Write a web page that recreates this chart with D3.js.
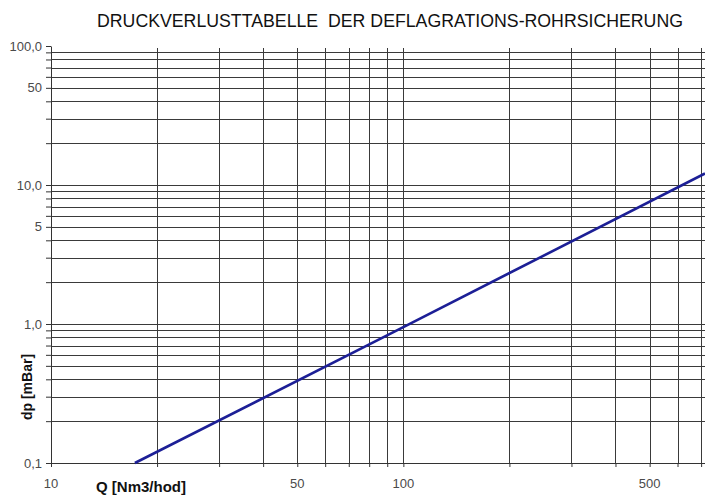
<!DOCTYPE html>
<html>
<head>
<meta charset="utf-8">
<script src="https://cdnjs.cloudflare.com/ajax/libs/d3/7.8.5/d3.min.js"></script>
<style>
  body { margin: 0; background: #fff; }
  svg { display: block; }
</style>
</head>
<body>
<div id="chart"></div>
<script>
// data
var flowQ = [17.3, 100, 718];          // Q [Nm3/hod]
var pressureDrop = [0.1, 0.95, 12.1];  // dp [mBar]

var xGrid = [20, 30, 40, 50, 60, 70, 80, 90, 100, 200, 300, 400, 500, 600, 700];
var yGrid = [0.2, 0.3, 0.4, 0.5, 0.6, 0.7, 0.8, 0.9, 1, 2, 3, 4, 5, 6, 7, 8, 9, 10, 20, 30, 40, 50, 60, 70, 80, 90];
var yTicks = [0.1, 0.2, 0.3, 0.4, 0.5, 0.6, 0.7, 0.8, 0.9, 1, 2, 3, 4, 5, 6, 7, 8, 9, 10, 20, 30, 40, 50, 60, 70, 80, 90, 100];
var xLabelValues = [10, 50, 100, 500];
var xLabelText = ["10", "50", "100", "500"];
var yLabelValues = [0.1, 1, 5, 10, 50, 100];
var yLabelText = ["0,1", "1,0", "5", "10,0", "50", "100,0"];

(function() {
    var W = 705, H = 495;
    var plot = {left: 51, right: 705, top: 46, bottom: 463};

    var svg = d3.select("#chart").append("svg")
        .attr("width", W)
        .attr("height", H);

    var x = d3.scaleLog().domain([10, 718]).range([plot.left, plot.right]);
    var y = d3.scaleLog().domain([0.1, 100]).range([plot.bottom, plot.top]);

    // title (double space kept)
    svg.append("text")
        .attr("x", 390).attr("y", 27)
        .attr("text-anchor", "middle")
        .attr("textLength", 586)
        .attr("lengthAdjust", "spacingAndGlyphs")
        .style("white-space", "pre")
        .style("font-family", "'Liberation Sans', Arial, sans-serif")
        .style("font-size", "18px")
        .style("fill", "#111")
        .text("DRUCKVERLUSTTABELLE  DER DEFLAGRATIONS-ROHRSICHERUNG");

    // grid lines
    svg.selectAll(".hgrid").data(yGrid).enter().append("line")
        .attr("class", "hgrid")
        .attr("x1", plot.left).attr("x2", plot.right)
        .attr("y1", d => Math.round(y(d)) + 0.5)
        .attr("y2", d => Math.round(y(d)) + 0.5)
        .attr("stroke", "#3a3a3a").attr("stroke-width", 1);

    svg.selectAll(".vgrid").data(xGrid).enter().append("line")
        .attr("class", "vgrid")
        .attr("x1", d => Math.round(x(d)) + 0.5)
        .attr("x2", d => Math.round(x(d)) + 0.5)
        .attr("y1", 48).attr("y2", plot.bottom)
        .attr("stroke", "#3a3a3a").attr("stroke-width", 1);

    // axes
    var yAxis = svg.append("g")
        .attr("transform", "translate(" + plot.left + ",0)")
        .call(d3.axisLeft(y).tickValues(yTicks).tickSize(5).tickSizeOuter(0).tickFormat(""));
    var xAxis = svg.append("g")
        .attr("transform", "translate(0," + plot.bottom + ")")
        .call(d3.axisBottom(x).tickValues([10].concat(xGrid)).tickSize(4).tickSizeOuter(0).tickFormat(""));
    [xAxis, yAxis].forEach(function(g) {
        g.select(".domain").attr("stroke", "#333");
        g.selectAll(".tick line").attr("stroke", "#333");
    });

    // tick labels
    svg.selectAll(".ylab").data(yLabelValues).enter().append("text")
        .attr("class", "ylab")
        .attr("x", 42)
        .attr("y", d => y(d) + 4.5)
        .attr("text-anchor", "end")
        .style("font-family", "'Liberation Sans', Arial, sans-serif")
        .style("font-size", "13px")
        .style("fill", "#4a4a4a")
        .text((d, i) => yLabelText[i]);

    svg.selectAll(".xlab").data(xLabelValues).enter().append("text")
        .attr("class", "xlab")
        .attr("x", d => x(d))
        .attr("y", 488)
        .attr("text-anchor", "middle")
        .style("font-family", "'Liberation Sans', Arial, sans-serif")
        .style("font-size", "13px")
        .style("fill", "#4a4a4a")
        .text((d, i) => xLabelText[i]);

    // axis titles
    svg.append("text")
        .attr("x", 96).attr("y", 492)
        .style("font-family", "'Liberation Sans', Arial, sans-serif")
        .style("font-size", "15px")
        .style("font-weight", "bold")
        .style("fill", "#111")
        .text("Q [Nm3/hod]");

    svg.append("text")
        .attr("transform", "translate(32,387) rotate(-90)")
        .attr("text-anchor", "middle")
        .style("font-family", "'Liberation Sans', Arial, sans-serif")
        .style("font-size", "14px")
        .style("font-weight", "bold")
        .style("fill", "#111")
        .text("dp [mBar]");

    // curve
    var line = d3.line()
        .x((d, i) => x(flowQ[i]))
        .y(d => y(d));
    svg.append("path")
        .datum(pressureDrop)
        .attr("d", line)
        .attr("fill", "none")
        .attr("stroke", "#1c1f96")
        .attr("stroke-width", 2.6);
})();
</script>
</body>
</html>
